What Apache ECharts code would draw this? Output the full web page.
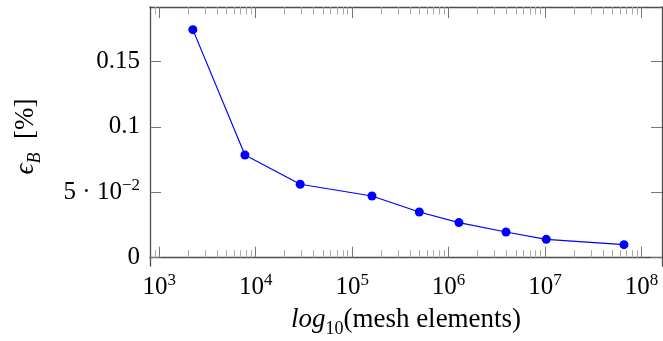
<!DOCTYPE html>
<html>
<head>
<meta charset="utf-8">
<script src="https://cdn.jsdelivr.net/npm/echarts@6/dist/echarts.min.js"></script>
<style>
  html, body { margin: 0; padding: 0; background: #fff; }
  #chart { width: 663px; height: 341px; }
</style>
</head>
<body>
<div id="chart"></div>
<script>
// values
const meshElements = [2230, 7740, 28970, 160600, 497000, 1280000, 3940000, 10300000, 65900000]
const errB = [0.1743, 0.0785, 0.0561, 0.0471, 0.0349, 0.0268, 0.0196, 0.0140, 0.0099]

const xMajorTicks = [1e3, 1e4, 1e5, 1e6, 1e7, 1e8]
const yTicks = [0, 0.05, 0.1, 0.15]

const X_MIN = 802
const X_MAX = 1.633e8
const Y_MIN = -0.0064
const Y_MAX = 0.1916

const FONT = "'Liberation Serif', 'DejaVu Serif', serif"
const LINE = '#4d4d4d'

// minor log ticks 2..9 x 10^n inside the range
const xMinorTicks = []
for (let e = 2; e <= 8; e++) {
  for (let k = 2; k <= 9; k++) {
    const v = k * Math.pow(10, e)
    if (v > X_MIN && v < X_MAX) xMinorTicks.push(v)
  }
}

const rich = {
  b: { fontFamily: FONT, fontSize: 25, color: '#000', lineHeight: 30 },
  s: { fontFamily: FONT, fontSize: 17, color: '#000', lineHeight: 17, verticalAlign: 'top' }
}

function xLabel(v) {
  return '{b|10}{s|' + Math.round(Math.log10(v)) + '}'
}
function yLabel(v) {
  if (Math.abs(v - 0.05) < 1e-9) return '{b|5 · 10}{s|−2}'
  return '{b|' + v + '}'
}

function xAxisDef(pos, ticks, len, color, main) {
  return {
    type: 'log',
    position: pos,
    min: X_MIN,
    max: X_MAX,
    axisLine: { show: main, lineStyle: { color: LINE, width: 1.3 } },
    axisTick: { show: true, inside: true, length: len, customValues: ticks, lineStyle: { color: color, width: 1 } },
    axisLabel: main && pos === 'bottom'
      ? { show: true, customValues: xMajorTicks, formatter: xLabel, rich: rich, margin: 6 }
      : { show: false },
    splitLine: { show: false },
    minorTick: { show: false }
  }
}

const chart = echarts.init(document.getElementById('chart'), null, { renderer: 'canvas' })

const titleRich = {
  it: { fontFamily: FONT, fontStyle: 'italic', fontSize: 27, color: '#000', lineHeight: 36 },
  sub: { fontFamily: FONT, fontSize: 18, color: '#000', lineHeight: 18, verticalAlign: 'bottom' },
  subi: { fontFamily: FONT, fontStyle: 'italic', fontSize: 18, color: '#000', lineHeight: 18, verticalAlign: 'bottom' },
  b: { fontFamily: FONT, fontSize: 27, color: '#000', lineHeight: 36 }
}

const xAxes = [
  xAxisDef('bottom', xMajorTicks, 11, '#777', true),
  xAxisDef('bottom', xMinorTicks, 7.5, '#aaa', false),
  xAxisDef('top', xMajorTicks, 11, '#777', true),
  xAxisDef('top', xMinorTicks, 7.5, '#aaa', false)
]
xAxes[0].name = '{it|log}{sub|10}{b|(mesh elements)}'
xAxes[0].nameLocation = 'middle'
xAxes[0].nameGap = 36
xAxes[0].nameTextStyle = { rich: titleRich }

function yAxisDef(pos, main) {
  return {
    type: 'value',
    position: pos,
    min: Y_MIN,
    max: Y_MAX,
    axisLine: { show: true, lineStyle: { color: LINE, width: 1.3 } },
    axisTick: { show: true, inside: true, length: 11, customValues: yTicks, lineStyle: { color: '#777', width: 1 } },
    axisLabel: main
      ? { show: true, customValues: yTicks, formatter: yLabel, rich: rich, margin: 10 }
      : { show: false },
    splitLine: { show: false }
  }
}

const yAxes = [yAxisDef('left', true), yAxisDef('right', false)]
yAxes[0].name = '{it|ϵ}{subi|B}{b|  [%]}'
yAxes[0].nameLocation = 'middle'
yAxes[0].nameGap = 106
yAxes[0].nameTextStyle = { rich: titleRich }

chart.setOption({
  animation: false,
  grid: { left: 150, right: 1, top: 7, bottom: 75, containLabel: false, outerBoundsMode: 'none' },
  xAxis: xAxes,
  yAxis: yAxes,
  series: [{
    type: 'line',
    xAxisIndex: 0,
    yAxisIndex: 0,
    data: meshElements.map((m, i) => [m, errB[i]]),
    symbol: 'circle',
    symbolSize: 9,
    lineStyle: { color: '#0000ff', width: 1.2 },
    itemStyle: { color: '#0000ff' }
  }]
})
</script>
</body>
</html>
